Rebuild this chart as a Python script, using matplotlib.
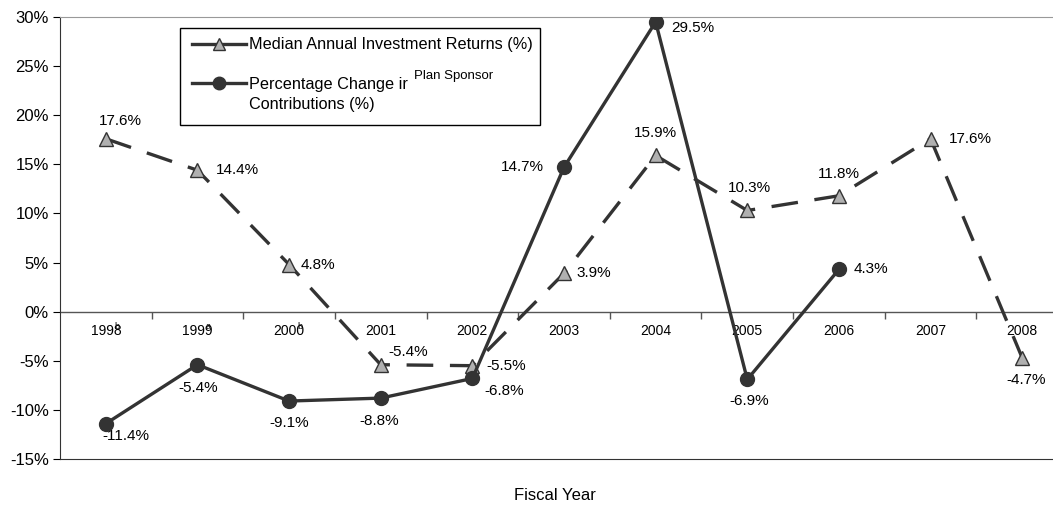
import matplotlib.pyplot as plt
from matplotlib.lines import Line2D
from matplotlib.patches import Rectangle

plt.rcParams['font.family'] = ['Liberation Sans', 'DejaVu Sans']

years = ['1998', '1999', '2000', '2001', '2002', '2003', '2004', '2005', '2006', '2007', '2008']
footnotes = ['b', 'a', 'b', '', '', '', '', '', '', '', '']
returns = [17.6, 14.4, 4.8, -5.4, -5.5, 3.9, 15.9, 10.3, 11.8, 17.6, -4.7]
contrib = [-11.4, -5.4, -9.1, -8.8, -6.8, 14.7, 29.5, -6.9, 4.3]

# label offsets in pixels (dx, dy, ha)
ret_off = [(15, 18, 'center'), (18, 0, 'left'), (12, 0, 'left'), (8, 13, 'left'), (14, 0, 'left'),
           (12, 0, 'left'), (0, 22, 'center'), (2, 22, 'center'), (0, 22, 'center'), (18, 0, 'left'),
           (4, -22, 'center')]
con_off = [(20, -12, 'center'), (1, -23, 'center'), (0, -22, 'center'), (-2, -23, 'center'),
           (12, -13, 'left'), (-20, 0, 'right'), (16, -6, 'left'), (2, -22, 'center'), (15, 0, 'left')]

dark = '#333333'

fig = plt.figure(figsize=(10.53, 5.08), dpi=100)
ax = fig.add_axes([60 / 1053, 49 / 508, 1008 / 1053, 442 / 508])

x = list(range(len(years)))
ax.plot(x, returns, color=dark, lw=2.4, dashes=(8, 5), marker='^', markersize=10,
        markerfacecolor='#b0b0b0', markeredgecolor=dark, markeredgewidth=1.0, zorder=3)
ax.plot(x[:len(contrib)], contrib, color=dark, lw=2.4, marker='o', markersize=10,
        markerfacecolor=dark, markeredgecolor=dark, zorder=4)

for i, v in enumerate(returns):
    dx, dy, ha = ret_off[i]
    ax.annotate('%.1f%%' % v, (i, v), xytext=(dx, dy), textcoords='offset pixels',
                ha=ha, va='center', fontsize=11)
for i, v in enumerate(contrib):
    dx, dy, ha = con_off[i]
    ax.annotate('%.1f%%' % v, (i, v), xytext=(dx, dy), textcoords='offset pixels',
                ha=ha, va='center', fontsize=11)

ax.set_xlim(-0.5, len(years) - 0.5)
ax.set_ylim(-15, 30)
ax.set_yticks(range(-15, 31, 5))
ax.set_yticklabels(['%d%%' % t for t in range(-15, 31, 5)], fontsize=12)
ax.set_xticks([])
ax.tick_params(axis='y', length=5, direction='out', pad=3)

# zero line with category ticks and labels
ax.axhline(0, color='#555555', lw=1.0, zorder=1)
for i in range(len(years)):
    ax.plot([i + 0.5], [0], color='#555555', lw=0, marker=3, markersize=5,
            markeredgewidth=1, zorder=1)
    ax.annotate(years[i], (i, 0), xytext=(0, -19), textcoords='offset pixels',
                ha='center', va='center', fontsize=10)
    if footnotes[i]:
        ax.annotate(footnotes[i], (i, 0), xytext=(11, -15), textcoords='offset pixels',
                    ha='center', va='center', fontsize=6.5)

ax.spines['right'].set_visible(False)
ax.spines['top'].set_color('#999999')
ax.spines['bottom'].set_color('#333333')
ax.spines['left'].set_color('#333333')

fig.text(555 / 1053, 1 - 495 / 508, 'Fiscal Year', ha='center', va='center', fontsize=12)

# legend box
def px(xp, yp):
    return (xp / 1053, 1 - yp / 508)

fig.patches.append(Rectangle(px(180, 125), 360 / 1053, 97 / 508, transform=fig.transFigure,
                             facecolor='white', edgecolor='black', lw=1, zorder=5))
fig.lines.append(Line2D([192 / 1053, 246 / 1053], [px(0, 44)[1]] * 2, transform=fig.transFigure,
                        color=dark, lw=2.4, zorder=6))
fig.lines.append(Line2D([219 / 1053], [px(0, 44)[1]], transform=fig.transFigure, marker='^',
                        markersize=9, markerfacecolor='#b0b0b0', markeredgecolor=dark, lw=0, zorder=7))
fig.lines.append(Line2D([192 / 1053, 246 / 1053], [px(0, 83)[1]] * 2, transform=fig.transFigure,
                        color=dark, lw=2.4, zorder=6))
fig.lines.append(Line2D([219 / 1053], [px(0, 83)[1]], transform=fig.transFigure, marker='o',
                        markersize=9, markerfacecolor=dark, markeredgecolor=dark, lw=0, zorder=7))
fig.text(*px(249, 44), 'Median Annual Investment Returns (%)', ha='left', va='center', fontsize=11.7, zorder=8)
fig.text(*px(249, 84), 'Percentage Change ir', ha='left', va='center', fontsize=11.7, zorder=8)
fig.text(*px(414, 76), 'Plan Sponsor', ha='left', va='center', fontsize=9.5, zorder=8)
fig.text(*px(249, 105), 'Contributions (%)', ha='left', va='center', fontsize=11.7, zorder=8)

fig.savefig('out.png', dpi=100)
